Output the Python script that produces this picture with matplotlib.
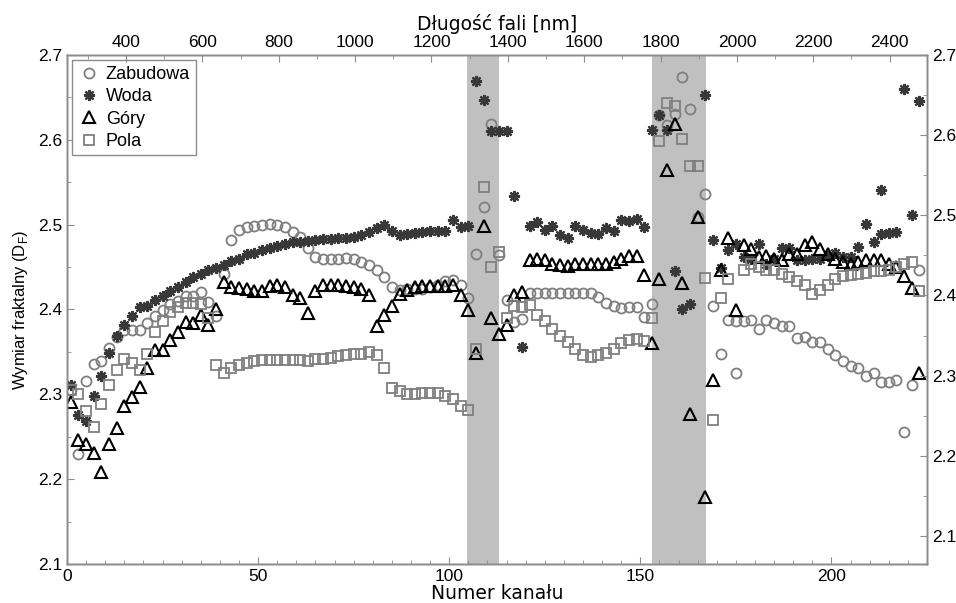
import numpy as np
import matplotlib.pyplot as plt
from matplotlib.ticker import MultipleLocator, FormatStrFormatter

# channel numbers (every second band)
channels = np.arange(1, 224, 2)

nan = np.nan

zabudowa = [2.305, 2.230, 2.316, 2.336, 2.339, 2.355, 2.367, 2.376,
            2.376, 2.376, 2.384, 2.392, 2.399, 2.406, 2.410, 2.416,
            2.416, 2.421, 2.409, 2.392, 2.442, 2.482, 2.494, 2.497,
            2.499, 2.500, 2.501, 2.500, 2.497, 2.491, 2.485, 2.472,
            2.462, 2.459, 2.459, 2.460, 2.461, 2.460, 2.456, 2.452,
            2.447, 2.438, 2.426, 2.423, 2.424, 2.424, 2.424, 2.426,
            2.429, 2.433, 2.435, 2.429, 2.413, 2.465, 2.521, 2.619,
            2.464, 2.411, 2.385, 2.389, 2.419, 2.420, 2.420, 2.420,
            2.420, 2.420, 2.420, 2.420, 2.419, 2.415, 2.408, 2.404,
            2.402, 2.403, 2.403, 2.391, 2.407, 2.629, 2.617, 2.630,
            2.674, 2.636, 2.509, 2.536, 2.404, 2.347, 2.388, 2.386,
            2.386, 2.388, 2.377, 2.388, 2.384, 2.380, 2.380, 2.366,
            2.368, 2.362, 2.362, 2.354, 2.346, 2.339, 2.333, 2.331,
            2.322, 2.325, 2.315, 2.315, 2.317, 2.256, 2.311, 2.446]

woda = [2.311, 2.276, 2.268, 2.298, 2.322, 2.349, 2.369, 2.382,
        2.392, 2.403, 2.404, 2.411, 2.416, 2.422, 2.427, 2.432,
        2.438, 2.442, 2.446, 2.449, 2.453, 2.457, 2.460, 2.465,
        2.467, 2.470, 2.473, 2.475, 2.477, 2.479, 2.480, 2.481,
        2.482, 2.483, 2.483, 2.484, 2.484, 2.486, 2.488, 2.491,
        2.496, 2.500, 2.493, 2.488, 2.489, 2.490, 2.491, 2.492,
        2.492, 2.492, 2.506, 2.497, 2.499, 2.669, 2.647, 2.610,
        2.610, 2.610, 2.534, 2.356, 2.498, 2.503, 2.494, 2.498,
        2.488, 2.484, 2.498, 2.494, 2.490, 2.489, 2.496, 2.492,
        2.506, 2.504, 2.507, 2.497, 2.612, 2.629, 2.612, 2.445,
        2.401, 2.407, nan, 2.653, 2.482, 2.449, 2.470, 2.477,
        2.462, 2.460, 2.477, 2.454, 2.459, 2.472, 2.472, 2.458,
        2.458, 2.459, 2.460, 2.463, 2.467, 2.462, 2.462, 2.474,
        2.501, 2.480, 2.489, 2.490, 2.491, 2.660, 2.511, 2.646]

gory = [2.291, 2.246, 2.242, 2.231, 2.209, 2.241, 2.260, 2.286,
        2.297, 2.309, 2.331, 2.352, 2.352, 2.364, 2.373, 2.385,
        2.384, 2.393, 2.382, 2.401, 2.432, 2.427, 2.425, 2.424,
        2.422, 2.422, 2.428, 2.429, 2.426, 2.417, 2.413, 2.396,
        2.422, 2.429, 2.429, 2.429, 2.428, 2.427, 2.424, 2.417,
        2.380, 2.393, 2.404, 2.418, 2.423, 2.426, 2.428, 2.428,
        2.428, 2.428, 2.429, 2.417, 2.399, 2.349, 2.498, 2.390,
        2.371, 2.382, 2.417, 2.421, 2.458, 2.460, 2.458, 2.454,
        2.453, 2.451, 2.454, 2.454, 2.454, 2.454, 2.454, 2.456,
        2.459, 2.463, 2.463, 2.441, 2.361, 2.436, 2.565, 2.619,
        2.431, 2.277, 2.509, 2.179, 2.317, 2.447, 2.484, 2.399,
        2.476, 2.471, 2.462, 2.463, 2.459, 2.458, 2.466, 2.466,
        2.476, 2.480, 2.471, 2.466, 2.460, 2.456, 2.454, 2.456,
        2.458, 2.458, 2.458, 2.454, 2.450, 2.440, 2.425, 2.325]

pola = [2.305, 2.300, 2.280, 2.261, 2.289, 2.311, 2.329, 2.342,
        2.337, 2.329, 2.348, 2.374, 2.387, 2.397, 2.403, 2.408,
        2.408, 2.407, 2.390, 2.335, 2.325, 2.331, 2.335, 2.337,
        2.339, 2.340, 2.341, 2.341, 2.341, 2.341, 2.341, 2.339,
        2.342, 2.342, 2.343, 2.345, 2.346, 2.347, 2.347, 2.350,
        2.346, 2.331, 2.307, 2.304, 2.300, 2.300, 2.301, 2.301,
        2.301, 2.298, 2.295, 2.286, 2.282, 2.353, 2.544, 2.450,
        2.468, 2.390, 2.404, 2.403, 2.405, 2.394, 2.386, 2.377,
        2.369, 2.362, 2.354, 2.346, 2.344, 2.346, 2.349, 2.354,
        2.360, 2.364, 2.365, 2.363, 2.390, 2.599, 2.643, 2.640,
        2.601, 2.569, 2.569, 2.437, 2.270, 2.414, 2.436, nan,
        2.446, 2.454, 2.450, 2.447, 2.447, 2.442, 2.438, 2.433,
        2.429, 2.418, 2.423, 2.429, 2.436, 2.440, 2.441, 2.442,
        2.443, 2.445, 2.445, 2.447, 2.450, 2.454, 2.456, 2.422]

# a couple of extra points sitting on the same channel
zabudowa_extra_ch = [175]
zabudowa_extra = [2.325]
woda_extra_ch = [213]
woda_extra = [2.541]

# water absorption bands (channel ranges)
bands = [(104.7, 112.9), (153.1, 167.2)]

plt.rcParams['font.family'] = ['Liberation Sans', 'DejaVu Sans']

fig = plt.figure(figsize=(9.56, 6.03), dpi=100)
ax = fig.add_axes([0.0701, 0.0647, 0.8996, 0.8441])

for b0, b1 in bands:
    ax.axvspan(b0, b1, color='#c0c0c0', lw=0, zorder=0)

grey = '#7f7f7f'
ax.plot(channels, zabudowa, ls='none', marker='o', ms=7.2, mfc='none',
        mec=grey, mew=1.3, label='Zabudowa')
ax.plot(zabudowa_extra_ch, zabudowa_extra, ls='none', marker='o', ms=7.2,
        mfc='none', mec=grey, mew=1.3)
ax.plot(channels, woda, ls='none', marker=(8, 2, 0), ms=8,
        mec='#383838', mew=1.6, label='Woda')
ax.plot(woda_extra_ch, woda_extra, ls='none', marker=(8, 2, 0), ms=8,
        mec='#383838', mew=1.6)
ax.plot(channels, gory, ls='none', marker='^', ms=8.5, mfc='none',
        mec='black', mew=1.5, label='Góry')
ax.plot(channels, pola, ls='none', marker='s', ms=6.5, mfc='none',
        mec=grey, mew=1.3, label='Pola')

ax.set_xlim(0, 225)
ax.set_ylim(2.1, 2.7)
ax.xaxis.set_major_locator(MultipleLocator(50))
ax.xaxis.set_minor_locator(MultipleLocator(5))
ax.yaxis.set_major_locator(MultipleLocator(0.1))
ax.yaxis.set_minor_locator(MultipleLocator(0.05))
ax.yaxis.set_major_formatter(FormatStrFormatter('%.1f'))

spine_col = '#8c8c8c'
for s in ax.spines.values():
    s.set_color(spine_col)
    s.set_linewidth(1.0)

ax.tick_params(which='both', direction='in', color=spine_col, labelsize=12.5,
               top=False, right=False)
ax.tick_params(which='major', length=5)
ax.tick_params(which='minor', length=3)

ax.set_xlabel('Numer kanału', fontsize=13.5, family='DejaVu Sans', labelpad=0)
ax.set_ylabel('Wymiar fraktalny (D$_\\mathregular{F}$)', fontsize=12, labelpad=6)

# right axis
ax2 = ax.twinx()
ax2.set_ylim(2.065, 2.7)
ax2.yaxis.set_major_locator(MultipleLocator(0.1))
ax2.yaxis.set_minor_locator(MultipleLocator(0.05))
ax2.yaxis.set_major_formatter(FormatStrFormatter('%.1f'))
ax2.tick_params(which='both', direction='in', color=spine_col, labelsize=12.5)
ax2.tick_params(which='major', length=5)
ax2.tick_params(which='minor', length=3)

# top axis: wavelength
ax3 = ax.twiny()
ax3.set_xlim(245.4, 2498)
ax3.xaxis.set_major_locator(MultipleLocator(200))
ax3.xaxis.set_minor_locator(MultipleLocator(100))
ax3.tick_params(which='both', direction='in', color=spine_col, labelsize=12.5)
ax3.tick_params(which='major', length=5)
ax3.tick_params(which='minor', length=3)
ax3.set_xlabel('Długość fali [nm]', fontsize=13.5, family='DejaVu Sans', labelpad=4)

for a in [ax2, ax3]:
    for s in a.spines.values():
        s.set_color(spine_col)
        s.set_linewidth(1.0)

leg = ax.legend(loc='upper left', fontsize=13, frameon=True, fancybox=False,
                borderaxespad=0.3, handletextpad=0.35, borderpad=0.3,
                labelspacing=0.3, handlelength=1.2, framealpha=1)
leg.get_frame().set_edgecolor(spine_col)
leg.get_frame().set_linewidth(1.0)

fig.savefig('out.png', dpi=100)
